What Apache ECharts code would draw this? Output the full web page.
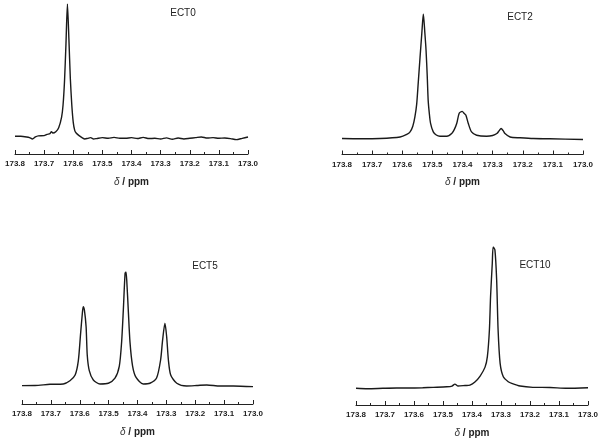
<!DOCTYPE html>
<html>
<head>
<meta charset="utf-8">
<script src="https://cdn.jsdelivr.net/npm/echarts@6/dist/echarts.min.js"></script>
<style>html,body{margin:0;padding:0;background:#fff}#c{width:604px;height:442px}</style>
</head>
<body>
<div id="c"></div>
<script>
// Panel names
const panelNames = ['ECT0', 'ECT2', 'ECT5', 'ECT10'];
// Axis range (ppm)
const ppmMin = 173.0, ppmMax = 173.8, ppmStep = 0.1;

// ECT0 spectrum
const ect0Ppm = [173.80,173.78,173.76,173.75,173.74,173.73,173.72,173.70,173.69,173.68,173.675,173.67,173.66,173.65,173.64,173.635,173.63,173.625,173.62,173.615,173.61,173.605,173.60,173.595,173.59,173.58,173.57,173.56,173.55,173.54,173.53,173.52,173.50,173.48,173.46,173.44,173.42,173.40,173.38,173.36,173.34,173.32,173.30,173.28,173.26,173.24,173.22,173.20,173.18,173.16,173.14,173.12,173.10,173.08,173.06,173.04,173.02,173.00];
const ect0Int = [0.5,0.5,0,-0.5,-1.5,0,0.8,1,2,2.5,4,3,4,7,15,24,42,70,100,74,44,24,11,5,3,1,-0.5,-1.5,-1,-0.5,-1.5,-1.2,-0.5,-1,-0.3,-1,-1,-0.5,-1.2,-0.3,-1.2,-1,-1.5,-0.7,-1.7,-0.8,-1.5,-1,-0.5,0,-0.8,-0.5,-1,-0.8,-1.2,-2,-1,0];

// ECT2 spectrum
const ect2Ppm = [173.80,173.74,173.674,173.607,173.585,173.574,173.565,173.558,173.552,173.547,173.541,173.535,173.530,173.525,173.521,173.517,173.514,173.510,173.506,173.497,173.487,173.475,173.452,173.435,173.427,173.419,173.411,173.401,173.395,173.389,173.381,173.370,173.353,173.320,173.300,173.286,173.278,173.272,173.265,173.259,173.242,173.209,173.165,173.110,173.00];
const ect2Int = [0.2,0,0.2,1.4,3.5,5.5,10,17.5,28,44.6,65,84.7,100,85,71,50,31,20,12.4,5.5,3,2,2,4.4,7.5,12.4,20.5,22,20.5,19,12.4,5.5,2.8,2,2.6,4.2,6.5,8.2,6.5,4.2,1.4,0.8,0.2,0,-0.6];

// ECT5 spectrum
const ect5Ppm = [173.80,173.755,173.703,173.657,173.634,173.616,173.605,173.597,173.591,173.588,173.584,173.578,173.574,173.567,173.553,173.530,173.501,173.478,173.463,173.455,173.449,173.443,173.440,173.437,173.432,173.426,173.417,173.405,173.380,173.357,173.334,173.320,173.313,173.305,173.299,173.293,173.285,173.264,173.230,173.195,173.160,173.114,173.068,173.00];
const ect5Int = [0.3,0.4,1.5,1.8,4.6,9.6,22,46.2,63.8,69.6,66.7,52,27,13.5,5.3,1.8,2.4,6.8,17.5,38.5,67,98.9,100,91.5,67,38.5,17.5,7.5,1.8,2.4,7,22.8,40.4,55,43.2,22.8,9.6,2.4,0,0.4,0.9,0,0,-0.6];

// ECT10 spectrum
const ect10Ppm = [173.80,173.76,173.707,173.66,173.614,173.57,173.534,173.487,173.469,173.459,173.448,173.424,173.407,173.390,173.372,173.355,173.347,173.340,173.336,173.330,173.327,173.321,173.315,173.310,173.303,173.292,173.275,173.263,173.234,173.190,173.131,173.072,173.00];
const ect10Int = [0,-0.3,0,0.2,0.2,0.4,0.7,1.1,1.6,3,1.6,2,2.3,4.5,8.7,15,22.4,41.3,65,88.7,100,98,76.8,41.3,17.7,8.2,4.7,3.5,1.6,0.7,0.6,0,0.4];

const spectraPpm = [ect0Ppm, ect2Ppm, ect5Ppm, ect10Ppm];
const spectraInt = [ect0Int, ect2Int, ect5Int, ect10Int];

const font = '"Liberation Sans", Arial, sans-serif';
// layout per panel
const grids = [
  {left: 15, right: 356, top: 4, bottom: 288},
  {left: 342, right: 21, top: 14, bottom: 287.5},
  {left: 22, right: 351, top: 272, bottom: 38},
  {left: 356, right: 16, top: 247, bottom: 37}
];
const yMins = [-12.8, -12.6, -15.8, -11.8];
const labelPos = [[183, 13], [520, 17], [205, 266], [535, 265]];

const chart = echarts.init(document.getElementById('c'), null, {renderer: 'canvas'});
const xAxes = grids.map((g, i) => ({
  type: 'value', gridIndex: i, inverse: true,
  min: ppmMin, max: ppmMax, interval: ppmStep,
  axisLine: {show: true, onZero: false, lineStyle: {color: '#222', width: 1}},
  axisTick: {show: true, inside: true, length: 4, lineStyle: {color: '#222'}},
  minorTick: {show: true, splitNumber: 2, length: 2, lineStyle: {color: '#222'}},
  splitLine: {show: false},
  axisLabel: {fontSize: 8, fontWeight: 'bold', color: '#222', fontFamily: font, margin: 6,
    formatter: v => v.toFixed(1), showMinLabel: true, showMaxLabel: true},
  name: '{d|δ}{s| / ppm}', nameLocation: 'middle', nameGap: 23,
  nameTextStyle: {rich: {
    d: {fontSize: 10, fontStyle: 'italic', fontFamily: font, color: '#333'},
    s: {fontSize: 10, fontWeight: 'bold', fontFamily: font, color: '#222'}
  }}
}));
const yAxes = grids.map((g, i) => ({
  type: 'value', gridIndex: i, min: yMins[i], max: 100, show: false
}));
const series = spectraPpm.map((p, i) => ({
  type: 'line', xAxisIndex: i, yAxisIndex: i, showSymbol: false, smooth: 0.25,
  lineStyle: {color: '#1a1a1a', width: 1.4}, animation: false,
  data: p.map((x, k) => [x, spectraInt[i][k]])
}));
chart.setOption({
  animation: false,
  grid: grids,
  xAxis: xAxes,
  yAxis: yAxes,
  series: series,
  graphic: panelNames.map((n, i) => ({
    type: 'text', x: labelPos[i][0], y: labelPos[i][1],
    style: {text: n, fontSize: 10, fontFamily: font, fill: '#222', align: 'center', verticalAlign: 'middle'}
  }))
});
</script>
</body>
</html>
